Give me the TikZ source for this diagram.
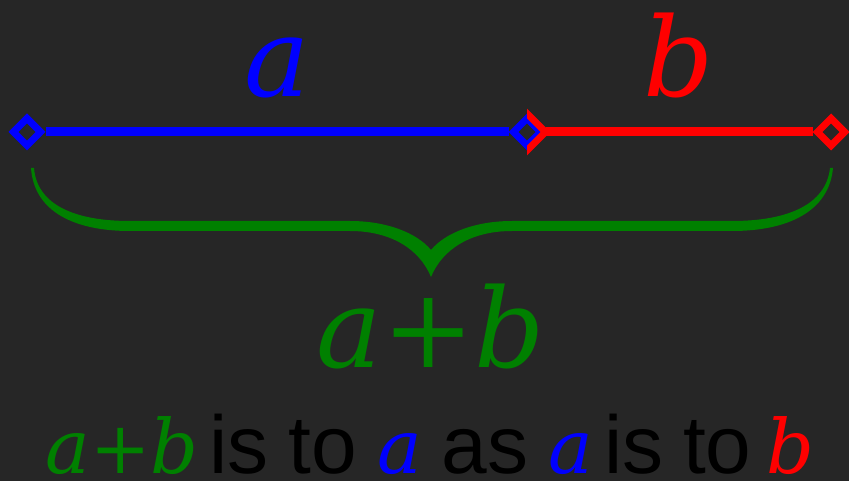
\documentclass[tikz,border=0pt]{standalone}
\usepackage{fontspec}
\setmainfont{Liberation Sans}
\newfontfamily\letterfont{DejaVu Serif}
\usetikzlibrary{shapes.geometric}

\definecolor{bg}{HTML}{262626}
\definecolor{segblue}{HTML}{0000FF}
\definecolor{segred}{HTML}{FF0000}
\definecolor{bracegreen}{HTML}{008000}

% italic letters of the word line
\newcommand{\lett}[1]{{\letterfont\fontsize{75}{75}\selectfont\textit{#1}}}
\newcommand{\sumab}{{\letterfont\textit{a}+\textit{b}}}

\begin{document}
\begin{tikzpicture}[
  x=1pt, y=-1pt,
  segend/.style={
    diamond,
    aspect=1,
    draw,
    fill=bg,
    inner sep=0pt,
    minimum size=30pt,
    line width=7pt,
    line join=miter
  },
  seg/.style={line width=9pt},
  biglbl/.style={inner sep=0pt, anchor=base, font=\fontsize{110}{110}\selectfont},
  linelbl/.style={inner sep=0pt, anchor=base, font=\fontsize{82}{82}\selectfont}
]

\fill[bg] (0,0) rectangle (849,481);
\useasboundingbox (0,0) rectangle (849,481);

% end points of the two parts
\node[segend, draw=segblue] (left) at (27,132) {};
\node[segend, draw=segblue] (mid) at (527,132) {};
\node[segend, draw=segred] (right) at (831,132) {};

% right half of the middle point is red
\begin{scope}
  \clip ([yshift=12pt]mid.north) rectangle ([xshift=20pt,yshift=-12pt]mid.south);
  \draw[segred, line width=7pt, line join=miter]
    (mid.north) -- (mid.east) -- (mid.south) -- (mid.west) -- cycle;
\end{scope}

% the parts a and b
\draw[seg, segblue] (left.east) -- (mid.west);
\draw[seg, segred] (mid.east) -- (right.west);

\node[biglbl, text=segblue] (la) at (277,97) {{\letterfont\textit{a}}};
\node[biglbl, text=segred] (lb) at (679,97) {{\letterfont\textit{b}}};

% brace under the whole
\fill[bracegreen]
  (31,168) .. controls (34,212) and (75,231) .. (130,231) -- (350,231)
  .. controls (392,231) and (420,250) .. (431,277)
  .. controls (442,250) and (470,231) .. (512,231) -- (732,231)
  .. controls (787,231) and (829,212) .. (833,168)
  -- (830,168)
  .. controls (826,205) and (787,221) .. (732,221) -- (512,221)
  .. controls (475,221) and (445,233) .. (431,250)
  .. controls (417,233) and (387,221) .. (350,221) -- (130,221)
  .. controls (75,221) and (37,205) .. (34,168) -- cycle;
\coordinate (tip) at (431,277);

\node[biglbl, text=bracegreen] (lsum) at (431,367) {\sumab};

% the ratio in words
\node[linelbl] (ratio) at (430,473)
  {\spaceskip=20pt
   \textcolor{bracegreen}{\lett{a}{\letterfont\fontsize{72}{72}\selectfont+}\lett{b}}
   \kern-9pt is to \textcolor{segblue}{\lett{a}} as
   \textcolor{segblue}{\lett{a}} \kern-9pt is to
   \kern-5pt\textcolor{segred}{\lett{b}}};

\end{tikzpicture}
\end{document}
